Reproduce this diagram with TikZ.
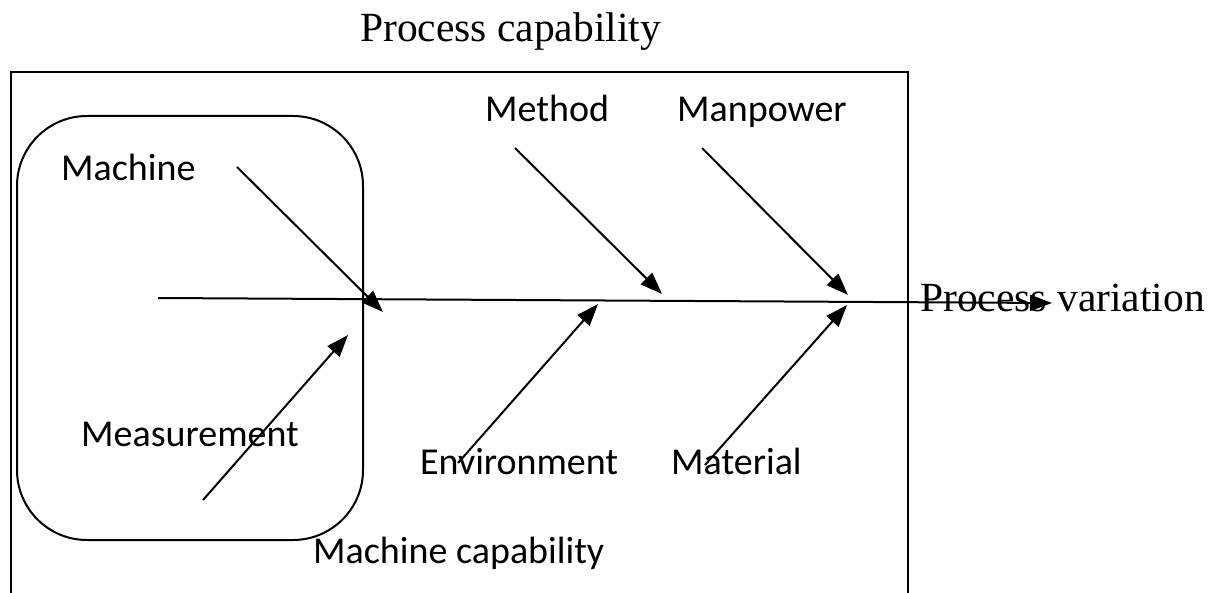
\documentclass[tikz,border=0pt]{standalone}
\usepackage{fontspec}
\setmainfont{Liberation Serif}
\newfontfamily\labelfont{Carlito}
\usetikzlibrary{arrows.meta}
\begin{document}
\begin{tikzpicture}[x=1pt,y=-1pt,
  frame/.style={draw, line width=2pt},
  bone/.style={line width=2pt, -{Triangle[length=22pt,width=16pt]}},
  cause/.style={font=\labelfont\fontsize{38}{44}\selectfont, anchor=base west, inner sep=0pt},
  effect/.style={font=\fontsize{41.5}{48}\selectfont, anchor=base west, inner sep=0pt}]
\useasboundingbox (0,0) rectangle (1218,593);

% outer box (process capability) and inner box (machine capability)
\draw[frame] (11,640) -- (11,72) -- (908,72) -- (908,640);
\draw[frame, rounded corners=70pt] (17,116) rectangle (363,540);

% titles
\node[effect] (pcap) at (360,42) {Process capability};
\node[effect] (pvar) at (920,312) {Process variation};
\node[cause] (mcap) at (313,563) {Machine capability};

% cause labels
\node[cause] (machine) at (61,181) {Machine};
\node[cause] (method) at (485,122) {Method};
\node[cause] (manpower) at (677,122) {Manpower};
\node[cause] (measure) at (81,446) {Measurement};
\node[cause] (environ) at (420,474) {Environment};
\node[cause] (material) at (671,474) {Material};

% bone end points
\coordinate (spineS) at (158,298);
\coordinate (spineE) at (1052,303);
\coordinate (machS) at (237,167);   \coordinate (machE) at (383,312);
\coordinate (measS) at (203,500);   \coordinate (measE) at (348,335);
\coordinate (methS) at (515,148);   \coordinate (methE) at (662,294);
\coordinate (envS) at (458,463);    \coordinate (envE) at (598,304);
\coordinate (manS) at (702,148);    \coordinate (manE) at (848,295);
\coordinate (matS) at (705,465);    \coordinate (matE) at (847,305);

% spine and bones
\draw[bone] (spineS) -- (spineE);
\draw[bone] (machS) -- (machE);
\draw[bone] (measS) -- (measE);
\draw[bone] (methS) -- (methE);
\draw[bone] (envS) -- (envE);
\draw[bone] (manS) -- (manE);
\draw[bone] (matS) -- (matE);
\end{tikzpicture}
\end{document}
